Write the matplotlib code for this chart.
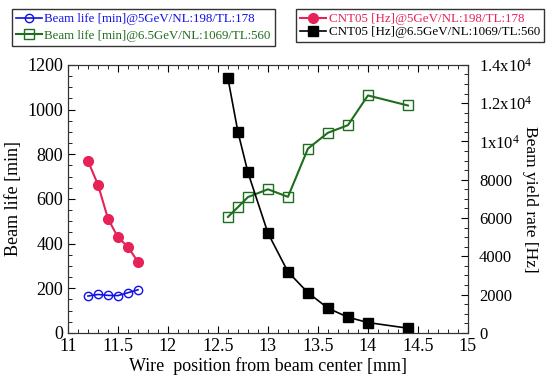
import numpy as np
import matplotlib.pyplot as plt
from matplotlib.ticker import MultipleLocator, FuncFormatter

plt.rcParams['font.family'] = 'Liberation Serif'
plt.rcParams['mathtext.fontset'] = 'custom'
plt.rcParams['mathtext.rm'] = 'Liberation Serif'

# beam life [min], 5 GeV
x_5 = [11.2, 11.3, 11.4, 11.5, 11.6, 11.7]
life_5 = [165, 172, 168, 167, 180, 193]
# CNT05 rate [Hz], 5 GeV
rate_5 = [8980, 7740, 5970, 4990, 4490, 3710]

# 6.5 GeV
x_65 = [12.6, 12.7, 12.8, 13.0, 13.2, 13.4, 13.6, 13.8, 14.0, 14.4]
life_65 = [519, 563, 608, 643, 609, 825, 896, 930, 1063, 1018]
rate_65 = [13290, 10490, 8380, 5210, 3190, 2100, 1290, 820, 540, 245]

blue = '#1010e8'
green = '#1e6e1e'
red = '#e62258'

fig = plt.figure(figsize=(5.46, 3.77), dpi=100)
ax = fig.add_axes([0.1245, 0.117, 0.7325, 0.711])
ax2 = ax.twinx()

l1, = ax.plot(x_5, life_5, color=blue, lw=1.2, marker='o', ms=6, mfc='none', mec=blue, mew=1)
l2, = ax.plot(x_65, life_65, color=green, lw=1.5, marker='s', ms=7, mfc='none', mec=green, mew=1)
l3, = ax2.plot(x_5, rate_5, color=red, lw=1.5, marker='o', ms=7, mfc=red, mec=red)
l4, = ax2.plot(x_65, rate_65, color='black', lw=1.2, marker='s', ms=7, mfc='black', mec='black')

ax.set_xlim(11, 15)
ax.set_ylim(0, 1200)
ax2.set_ylim(0, 14000)

ax.xaxis.set_major_locator(MultipleLocator(0.5))
ax.xaxis.set_minor_locator(MultipleLocator(0.1))
ax.yaxis.set_major_locator(MultipleLocator(200))
ax.yaxis.set_minor_locator(MultipleLocator(50))
ax2.yaxis.set_major_locator(MultipleLocator(2000))
ax2.yaxis.set_minor_locator(MultipleLocator(500))

ax.xaxis.set_major_formatter(FuncFormatter(lambda v, p: f'{v:g}'))


def sci_fmt(v, p):
    if v >= 10000:
        m = v / 10000
        return r'$\mathregular{%sx10^4}$' % (f'{m:g}')
    return f'{v:g}'


ax2.yaxis.set_major_formatter(FuncFormatter(sci_fmt))

ax.tick_params(axis='both', which='both', direction='in', labelsize=13)
ax.tick_params(axis='x', which='both', top=True)
ax.tick_params(axis='y', which='both', right=False)
ax.tick_params(which='major', length=5)
ax.tick_params(which='minor', length=3)
ax2.tick_params(axis='y', which='both', direction='in', labelsize=12, pad=8)
ax2.tick_params(which='major', length=5)
ax2.tick_params(which='minor', length=3)

for a in (ax, ax2):
    for s in a.spines.values():
        s.set_color('#333333')

ax.set_xlabel('Wire  position from beam center [mm]', fontsize=13, labelpad=2)
ax.set_ylabel('Beam life [min]', fontsize=13)
ax2.set_ylabel('Beam yield rate [Hz]', fontsize=12.5, rotation=-90, labelpad=4)

leg_kw = dict(frameon=True, fancybox=False, edgecolor='black',
              handlelength=2.0, handletextpad=0.2, borderpad=0.3,
              borderaxespad=0)
leg1 = fig.legend([l1, l2], ['Beam life [min]@5GeV/NL:198/TL:178',
                             'Beam life [min]@6.5GeV/NL:1069/TL:560'],
                  loc='upper left', bbox_to_anchor=(0.022, 0.975),
                  fontsize=9.3, labelspacing=0.35, **leg_kw)
for t, c in zip(leg1.get_texts(), [blue, green]):
    t.set_color(c)
leg2 = fig.legend([l3, l4], ['CNT05 [Hz]@5GeV/NL:198/TL:178',
                             'CNT05 [Hz]@6.5GeV/NL:1069/TL:560'],
                  loc='upper right', bbox_to_anchor=(0.996, 0.975),
                  fontsize=9.4, labelspacing=0.05, **leg_kw)
for t, c in zip(leg2.get_texts(), [red, 'black']):
    t.set_color(c)

fig.savefig('out.png', dpi=100)
